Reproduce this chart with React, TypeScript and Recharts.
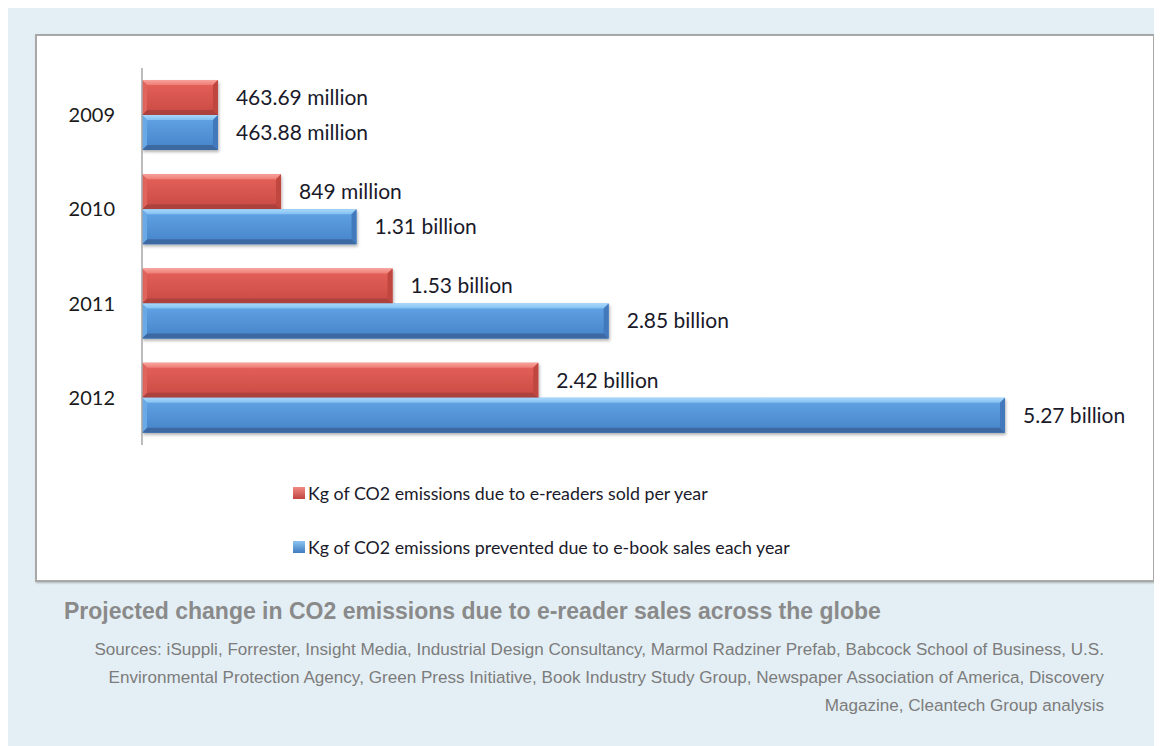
import React from "react";
import { BarChart, Bar, XAxis, YAxis, LabelList, Legend } from "recharts";

const years = ["2009", "2010", "2011", "2012"];
const emitted = [0.46369, 0.849, 1.53, 2.42];
const prevented = [0.46388, 1.31, 2.85, 5.27];
const emittedLabels = ["463.69 million", "849 million", "1.53 billion", "2.42 billion"];
const preventedLabels = ["463.88 million", "1.31 billion", "2.85 billion", "5.27 billion"];
const seriesNames = [
  "Kg of CO2 emissions due to e-readers sold per year",
  "Kg of CO2 emissions prevented due to e-book sales each year",
];
const caption = "Projected change in CO2 emissions due to e-reader sales across the globe";
const sourceLines = [
  "Sources: iSuppli, Forrester, Insight Media, Industrial Design Consultancy, Marmol Radziner Prefab, Babcock School of Business, U.S.",
  "Environmental Protection Agency, Green Press Initiative, Book Industry Study Group, Newspaper Association of America, Discovery",
  "Magazine, Cleantech Group analysis",
];

const data = years.map((y, i) => ({
  year: y,
  emitted: emitted[i],
  prevented: prevented[i],
  emittedLabel: emittedLabels[i],
  preventedLabel: preventedLabels[i],
}));

const FONT = "Lato, 'Open Sans', sans-serif";

const palettes: Record<string, { body: string; top: string; bottom: string; right: string; left: string }> = {
  red: { body: "url(#bodyRed)", top: "url(#topRed)", bottom: "#ad433e", right: "#c0463f", left: "#e0635c" },
  blue: { body: "url(#bodyBlue)", top: "url(#topBlue)", bottom: "#3c69a3", right: "#4379bd", left: "#69a9e6" },
};

const BevelBar = (props: any) => {
  const { x, y, width, height, pal } = props;
  if (!width || width <= 0) return null;
  const c = palettes[pal];
  const b = Math.min(5, width / 2, height / 3);
  const x2 = x + width;
  const y2 = y + height;
  return (
    <g filter="url(#barShadow)">
      <rect x={x} y={y} width={width} height={height} fill={c.body} />
      <polygon points={`${x},${y} ${x2},${y} ${x2 - b},${y + b} ${x + b},${y + b}`} fill={c.top} />
      <polygon points={`${x},${y2} ${x2},${y2} ${x2 - b},${y2 - b} ${x + b},${y2 - b}`} fill={c.bottom} />
      <polygon points={`${x2},${y} ${x2},${y2} ${x2 - b},${y2 - b} ${x2 - b},${y + b}`} fill={c.right} />
      <polygon points={`${x},${y} ${x},${y2} ${x + b},${y2 - b} ${x + b},${y + b}`} fill={c.left} />
    </g>
  );
};

const LegendContent = () => (
  <div style={{ fontFamily: FONT, fontSize: 17.8, color: "#1a1a2a" }}>
    {seriesNames.map((n, i) => (
      <div key={n} style={{ display: "flex", alignItems: "center", height: 54 }}>
        <span
          style={{
            display: "inline-block",
            width: 12,
            height: 12,
            marginRight: 3,
            background: i === 0 ? "linear-gradient(#f08a82,#c0453f)" : "linear-gradient(#8cc4f0,#3f7cc0)",
          }}
        />
        <span>{n}</span>
      </div>
    ))}
  </div>
);

export default function App() {
  return (
    <div style={{ position: "relative", width: 1154, height: 738, background: "#e4eff5", overflow: "hidden" }}>
      <div
        style={{
          position: "absolute",
          left: 27,
          top: 26,
          width: 1116,
          height: 544,
          background: "#ffffff",
          border: "2px solid #a8a8a8",
          boxShadow: "1px 1px 2px rgba(0,0,0,0.25)",
        }}
      >
        <BarChart
          width={1116}
          height={544}
          data={data}
          layout="vertical"
          margin={{ top: 32, right: 148, bottom: 135, left: 0 }}
          barCategoryGap={12}
          barGap={0}
        >
          <defs>
            <linearGradient id="bodyRed" x1="0" y1="0" x2="0" y2="1">
              <stop offset="0%" stopColor="#e5625a" />
              <stop offset="100%" stopColor="#c94a44" />
            </linearGradient>
            <linearGradient id="topRed" x1="0" y1="0" x2="0" y2="1">
              <stop offset="0%" stopColor="#f7a39c" />
              <stop offset="100%" stopColor="#ee7d75" />
            </linearGradient>
            <linearGradient id="bodyBlue" x1="0" y1="0" x2="0" y2="1">
              <stop offset="0%" stopColor="#62a5e6" />
              <stop offset="100%" stopColor="#4683c8" />
            </linearGradient>
            <linearGradient id="topBlue" x1="0" y1="0" x2="0" y2="1">
              <stop offset="0%" stopColor="#a9d8fa" />
              <stop offset="100%" stopColor="#82c0f2" />
            </linearGradient>
            <filter id="barShadow" x="-5%" y="-20%" width="110%" height="160%">
              <feDropShadow dx="1" dy="2" stdDeviation="1.5" floodColor="#000" floodOpacity="0.3" />
            </filter>
          </defs>
          <XAxis type="number" domain={[0, 5.27]} hide />
          <YAxis
            type="category"
            dataKey="year"
            width={105}
            tickLine={false}
            tickSize={0}
            tickMargin={27}
            axisLine={{ stroke: "#a6a6a6", strokeWidth: 1.5 }}
            tick={{ fill: "#1a1a1a", fontSize: 20, fontFamily: FONT }}
          />
          <Legend
            layout="vertical"
            verticalAlign="middle"
            align="center"
            content={<LegendContent />}
            wrapperStyle={{ left: 256, top: 430, width: 700 }}
          />
          <Bar
            dataKey="emitted"
            name={seriesNames[0]}
            isAnimationActive={false}
            fill="#c0504d"
            shape={(p: any) => <BevelBar {...p} pal="red" />}
          >
            <LabelList
              dataKey="emittedLabel"
              position="right"
              offset={18}
              style={{ fill: "#1a1a2a", fontSize: 21, fontFamily: FONT }}
            />
          </Bar>
          <Bar
            dataKey="prevented"
            name={seriesNames[1]}
            isAnimationActive={false}
            fill="#4f81bd"
            shape={(p: any) => <BevelBar {...p} pal="blue" />}
          >
            <LabelList
              dataKey="preventedLabel"
              position="right"
              offset={18}
              style={{ fill: "#1a1a2a", fontSize: 21, fontFamily: FONT }}
            />
          </Bar>
        </BarChart>
      </div>
      <div
        style={{
          position: "absolute",
          left: 56,
          top: 590,
          fontFamily: "'Liberation Sans', Arial, sans-serif",
          fontWeight: "bold",
          fontSize: 23,
          color: "#8a8a8a",
          whiteSpace: "nowrap",
        }}
      >
        {caption}
      </div>
      <div
        style={{
          position: "absolute",
          right: 58,
          top: 628,
          textAlign: "right",
          fontFamily: "'Liberation Sans', Arial, sans-serif",
          fontSize: 17.1,
          lineHeight: "28px",
          color: "#7c7c7c",
          whiteSpace: "nowrap",
        }}
      >
        {sourceLines.map((l) => (
          <div key={l}>{l}</div>
        ))}
      </div>
    </div>
  );
}
